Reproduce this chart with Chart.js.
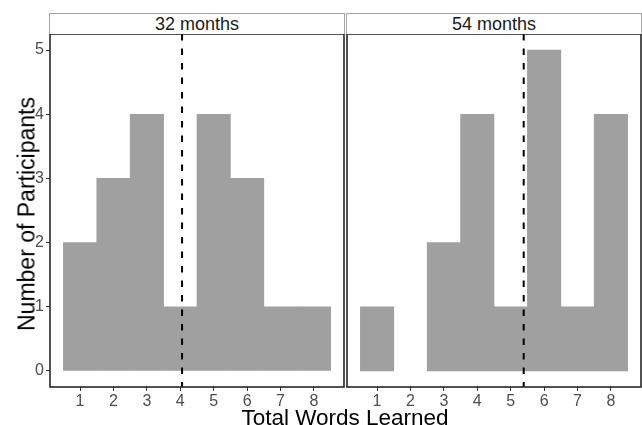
<!DOCTYPE html>
<html>
<head>
<meta charset="utf-8">
<script src="https://cdn.jsdelivr.net/npm/chart.js@4"></script>
<style>
  html, body { margin: 0; padding: 0; background: #fff; }
  #wrap { position: relative; width: 642px; height: 425px; overflow: hidden;
          font-family: "Liberation Sans", Arial, Helvetica, sans-serif; }
  canvas { position: absolute; top: 0; }
  .strip { position: absolute; top: 13px; height: 21px; box-sizing: border-box;
           border: 1px solid #a6a6a6; border-bottom: none; background: #fff;
           font-size: 18px; color: #1a1a1a; text-align: center; line-height: 21px; }
  .title { position: absolute; color: #000; white-space: nowrap;
           line-height: 1; transform: translate(-50%, -50%); }
</style>
</head>
<body>
<div id="wrap">
  <canvas id="c32" width="346" height="425" style="left:0px"></canvas>
  <canvas id="c54" width="345" height="425" style="left:297px"></canvas>
  <div class="strip" style="left:49px; width:296px;">32 months</div>
  <div class="strip" style="left:346px; width:296px;">54 months</div>
  <div class="title" style="font-size:23px; left:26.5px; top:213.5px; transform: translate(-50%, -50%) rotate(-90deg);">Number of Participants</div>
  <div class="title" style="font-size:22.5px; left:345px; top:418px;">Total Words Learned</div>
</div>
<script>
// Words learned (bins) and number of participants per bin, by age group
const wordBins = [1, 2, 3, 4, 5, 6, 7, 8];
const counts32 = [2, 3, 4, 1, 4, 3, 1, 1];
const counts54 = [1, 0, 2, 4, 1, 5, 1, 4];
const xTicks = [1, 2, 3, 4, 5, 6, 7, 8];
const yTicks = [0, 1, 2, 3, 4, 5];

// group mean of words learned, from the counts
function meanWords(counts) {
  let n = 0, s = 0;
  counts.forEach((c, i) => { n += c; s += c * wordBins[i]; });
  return s / n;
}

const FONT = '"Liberation Sans", Arial, Helvetica, sans-serif';

// full black frame around the panel
const framePlugin = {
  id: 'frame',
  afterDraw(chart) {
    const a = chart.chartArea, ctx = chart.ctx;
    ctx.save();
    ctx.strokeStyle = '#262626';
    ctx.lineWidth = 1.6;
    ctx.strokeRect(a.left, a.top, a.right - a.left, a.bottom - a.top);
    ctx.restore();
  }
};

// dashed vertical line at the group mean
const meanLinePlugin = {
  id: 'meanLine',
  afterDatasetsDraw(chart, args, opts) {
    const a = chart.chartArea, ctx = chart.ctx;
    const px = chart.scales.x.getPixelForValue(opts.value);
    ctx.save();
    ctx.strokeStyle = '#000';
    ctx.lineWidth = 2;
    ctx.setLineDash([6.5, 8]);
    ctx.beginPath();
    ctx.moveTo(px, a.top);
    ctx.lineTo(px, a.bottom);
    ctx.stroke();
    ctx.restore();
  }
};

function makePanel(id, counts, showY, padRight) {
  return new Chart(document.getElementById(id), {
    type: 'bar',
    data: {
      datasets: [{
        // empty bins get no bar
        data: wordBins.map((w, i) => ({ x: w, y: counts[i] > 0 ? counts[i] : null })),
        backgroundColor: '#a0a0a0',
        borderWidth: 0,
        barPercentage: 1,
        categoryPercentage: 1
      }]
    },
    options: {
      responsive: false,
      animation: false,
      devicePixelRatio: 1,
      layout: { padding: { top: 34, right: padRight, bottom: 0, left: 0 } },
      plugins: {
        legend: { display: false },
        tooltip: { enabled: false },
        meanLine: { value: meanWords(counts) }
      },
      scales: {
        x: {
          type: 'linear',
          offset: false,
          min: 0.1, max: 8.9,
          afterBuildTicks: s => { s.ticks = xTicks.map(v => ({ value: v })); },
          afterFit: s => { s.height = 38; },
          grid: { offset: false, drawOnChartArea: false, drawTicks: true, tickLength: 4, tickColor: '#333', tickWidth: 1 },
          border: { display: false },
          ticks: { color: '#4d4d4d', font: { family: FONT, size: 16 }, padding: 1, autoSkip: false, maxRotation: 0 }
        },
        y: {
          // the second panel shares the first panel's axis: it keeps the
          // same width but draws nothing
          display: showY,
          min: -0.25, max: 5.25,
          afterBuildTicks: s => { s.ticks = yTicks.map(v => ({ value: v })); },
          afterFit: s => { s.width = 50; },
          grid: { drawOnChartArea: false, drawTicks: true, tickLength: 4, tickColor: '#333', tickWidth: 1 },
          border: { display: false },
          ticks: { color: '#4d4d4d', font: { family: FONT, size: 16 }, padding: 2 }
        }
      }
    },
    plugins: [meanLinePlugin, framePlugin]
  });
}

makePanel('c32', counts32, true, 2);
makePanel('c54', counts54, false, 1);
</script>
</body>
</html>
